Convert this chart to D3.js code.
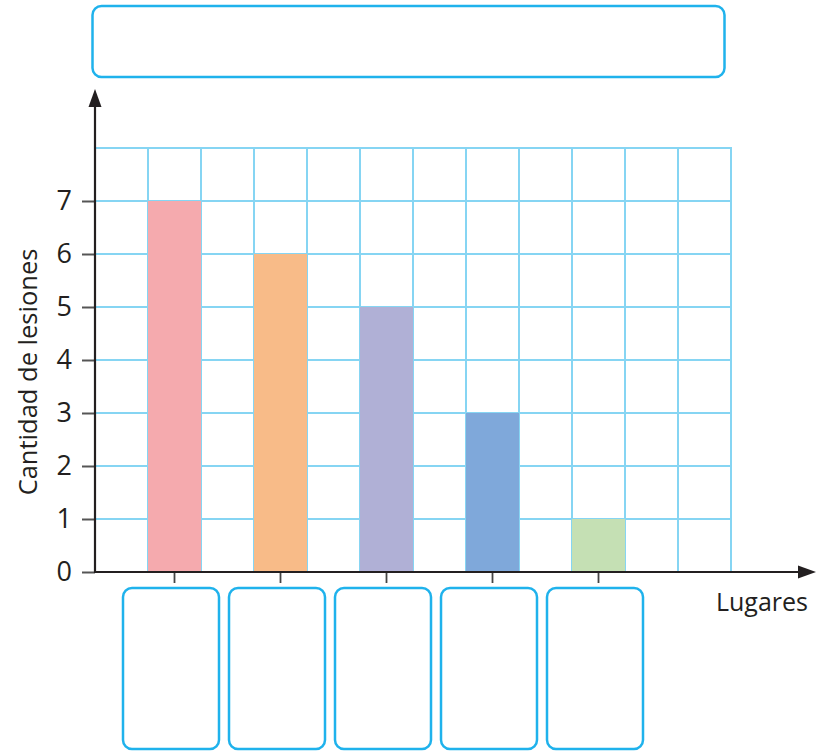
<!DOCTYPE html>
<html>
<head>
<meta charset="utf-8">
<script src="https://cdn.jsdelivr.net/npm/d3@7"></script>
<style>
  html, body { margin: 0; padding: 0; background: #fff; }
  svg { display: block; }
  text { font-family: "Open Sans", "Noto Sans", sans-serif; fill: #231f20; }
</style>
</head>
<body>
<svg id="chart" width="825" height="751"></svg>
<script>
// ---- data ----
const categories = ["Lugar 1", "Lugar 2", "Lugar 3", "Lugar 4", "Lugar 5"];
const values = [7, 6, 5, 3, 1];
const barColors = ["#f5aaae", "#f8bb88", "#b0b0d6", "#7fa8da", "#c5e0b4"];
const yTicks = [0, 1, 2, 3, 4, 5, 6, 7];
const yLabel = "Cantidad de lesiones";
const xLabel = "Lugares";

// ---- layout ----
const svg = d3.select("#chart");
const x0 = 95, x1 = 731, yBottom = 572, yTop = 148;
const gridCols = 12, gridRows = 8;
const gridColor = "#86d5f3";
const boxColor = "#1fb2ec";
const axisColor = "#231f20";
const font = "'Open Sans', 'Noto Sans', sans-serif";

const y = d3.scaleLinear().domain([0, gridRows]).range([yBottom, yTop]);
const col = d3.scaleLinear().domain([0, gridCols]).range([x0, x1]);
const x = d3.scaleBand().domain(categories)
  .range([col(1), col(10)]).paddingInner(0.5).paddingOuter(0);

// top title box
svg.append("rect")
  .attr("x", 92.5).attr("y", 6).attr("width", 632).attr("height", 71)
  .attr("rx", 9).attr("fill", "none").attr("stroke", boxColor).attr("stroke-width", 2.5);

// grid
const grid = svg.append("g");
grid.selectAll("line.h").data(d3.range(1, gridRows + 1)).join("line")
  .attr("x1", x0).attr("x2", x1)
  .attr("y1", d => y(d)).attr("y2", d => y(d))
  .attr("stroke", gridColor).attr("stroke-width", 2);
grid.selectAll("line.v").data(d3.range(1, gridCols + 1)).join("line")
  .attr("x1", d => col(d)).attr("x2", d => col(d))
  .attr("y1", yTop - 1).attr("y2", yBottom)
  .attr("stroke", gridColor).attr("stroke-width", 2);

// bars
svg.append("g").selectAll("rect").data(values).join("rect")
  .attr("x", (d, i) => x(categories[i]))
  .attr("width", x.bandwidth())
  .attr("y", d => y(d))
  .attr("height", d => y(0) - y(d))
  .attr("fill", (d, i) => barColors[i]);

// y axis
const yAxis = d3.axisLeft(y).tickValues(yTicks).tickSize(13).tickPadding(10);
const gy = svg.append("g").attr("transform", `translate(${x0},0)`).call(yAxis);
gy.select(".domain").remove();
gy.selectAll(".tick line").attr("stroke", "#555").attr("stroke-width", 2);
gy.selectAll(".tick text").attr("font-size", 27).attr("font-family", font).attr("fill", axisColor);

svg.append("line").attr("x1", x0).attr("x2", x0).attr("y1", 104).attr("y2", yBottom + 1)
  .attr("stroke", axisColor).attr("stroke-width", 2.2);
svg.append("path").attr("d", `M${x0},89 L${x0 - 6.5},107 L${x0 + 6.5},107 Z`).attr("fill", axisColor);

// x axis
const xAxis = d3.axisBottom(x).tickSize(11).tickFormat("");
const gx = svg.append("g").attr("transform", `translate(0,${yBottom})`).call(xAxis);
gx.select(".domain").remove();
gx.selectAll(".tick line").attr("stroke", "#444").attr("stroke-width", 1.8);

svg.append("line").attr("x1", x0 - 1).attr("x2", 800).attr("y1", yBottom).attr("y2", yBottom)
  .attr("stroke", axisColor).attr("stroke-width", 2.2);
svg.append("path").attr("d", `M816,${yBottom} L798,${yBottom - 6.5} L798,${yBottom + 6.5} Z`).attr("fill", axisColor);

// category answer boxes
svg.append("g").selectAll("rect").data(categories).join("rect")
  .attr("x", d => x(d) + x.bandwidth() / 2 - 51.5)
  .attr("y", 588)
  .attr("width", 96).attr("height", 161)
  .attr("rx", 9).attr("fill", "none").attr("stroke", boxColor).attr("stroke-width", 2.5);

// axis labels
svg.append("text").attr("x", 808).attr("y", 611).attr("text-anchor", "end")
  .attr("font-size", 25).attr("font-family", font).text(xLabel);
svg.append("text")
  .attr("transform", `translate(37,372) rotate(-90)`)
  .attr("text-anchor", "middle")
  .attr("font-size", 25.5).attr("font-family", font).text(yLabel);
</script>
</body>
</html>
